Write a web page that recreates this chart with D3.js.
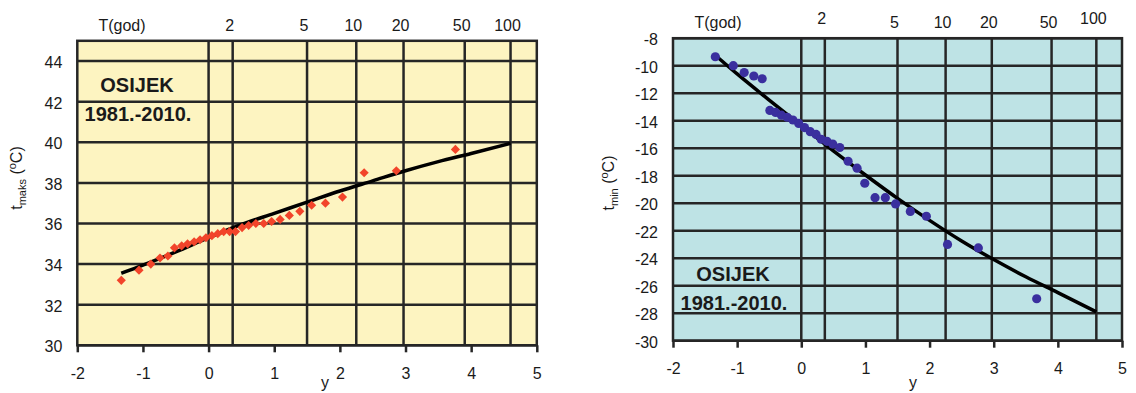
<!DOCTYPE html>
<html>
<head>
<meta charset="utf-8">
<script src="https://cdn.jsdelivr.net/npm/d3@7"></script>
<style>
  html, body { margin: 0; padding: 0; background: #ffffff; }
  svg { display: block; }
  text { font-family: "Liberation Sans", Arial, Helvetica, sans-serif; fill: #1a1a1a; }
</style>
</head>
<body>
<svg id="chart" width="1136" height="393"></svg>
<script>
// ---------------- DATA ----------------
// Gumbel reduced variate positions of the return-period grid lines
const returnPeriodLabels = ["2", "5", "10", "20", "50", "100"];
const returnPeriodY = [0.367, 1.500, 2.250, 2.970, 3.902, 4.600];
const xTicks = [-2, -1, 0, 1, 2, 3, 4, 5];

// Left panel: annual maximum temperature, Osijek 1981-2010
const maxYTicks = [30, 32, 34, 36, 38, 40, 42, 44];
const maxPointsX = [-1.33, -1.06, -0.88, -0.74, -0.62, -0.52, -0.41, -0.32, -0.22, -0.13,
                    -0.04, 0.05, 0.14, 0.23, 0.32, 0.41, 0.51, 0.61, 0.72, 0.84,
                    0.96, 1.09, 1.23, 1.39, 1.57, 1.78, 2.04, 2.37, 2.86, 3.76];
const maxPointsT = [33.2, 33.7, 34.0, 34.3, 34.4, 34.8, 34.9, 35.0, 35.1, 35.2,
                    35.3, 35.4, 35.5, 35.6, 35.6, 35.6, 35.8, 35.9, 36.0, 36.0,
                    36.1, 36.2, 36.4, 36.6, 36.9, 37.0, 37.3, 38.5, 38.6, 39.65];
const maxFitX = [-1.33, -1, -0.5, 0, 0.5, 1, 1.5, 2, 2.5, 3, 3.5, 4, 4.6];
const maxFitT = [33.55, 33.95, 34.6, 35.3, 35.95, 36.5, 37.05, 37.6, 38.1, 38.6, 39.05, 39.45, 39.95];

// Right panel: annual minimum temperature, Osijek 1981-2010
const minYTicks = [-30, -28, -26, -24, -22, -20, -18, -16, -14, -12, -10, -8];
const minPointsX = [-1.34, -1.06, -0.89, -0.74, -0.61, -0.49, -0.40, -0.31, -0.22, -0.13,
                    -0.04, 0.05, 0.14, 0.23, 0.31, 0.40, 0.49, 0.60, 0.73, 0.87,
                    0.99, 1.15, 1.31, 1.47, 1.70, 1.95, 2.28, 2.76, 3.67];
const minPointsT = [-9.35, -10.0, -10.5, -10.75, -10.95, -13.25, -13.4, -13.6, -13.75, -13.95,
                    -14.2, -14.5, -14.8, -15.0, -15.35, -15.5, -15.7, -15.95, -16.95, -17.45,
                    -18.55, -19.6, -19.6, -20.05, -20.6, -20.95, -23.0, -23.25, -26.95];
const minFitX = [-1.3, -1, -0.5, 0, 0.5, 1, 1.5, 2, 2.5, 3, 3.5, 4, 4.6];
const minFitT = [-9.4, -10.6, -12.5, -14.35, -16.2, -17.95, -19.65, -21.25, -22.75, -24.1, -25.35, -26.5, -27.9];

const stationName = "OSIJEK";
const periodLabel = "1981.-2010.";

// ---------------- DRAW ----------------
const svg = d3.select("#chart");
svg.append("rect").attr("width", 1136).attr("height", 393).attr("fill", "#ffffff");

function drawPanel(cfg) {
  const g = svg.append("g");
  const x = d3.scaleLinear().domain([-2, 5]).range([cfg.left, cfg.right]);
  const y = d3.scaleLinear().domain(cfg.yDomain).range([cfg.bottom, cfg.top]);

  // background
  g.append("rect")
    .attr("x", cfg.left).attr("y", cfg.top)
    .attr("width", cfg.right - cfg.left).attr("height", cfg.bottom - cfg.top)
    .attr("fill", cfg.bg);

  const gridColor = "#262626";
  const gw = 2.5;
  // horizontal grid
  g.append("g").selectAll("line").data(cfg.yTicks).join("line")
    .attr("x1", cfg.left).attr("x2", cfg.right)
    .attr("y1", d => y(d)).attr("y2", d => y(d))
    .attr("stroke", gridColor).attr("stroke-width", gw);
  // vertical grid: y=0 and return periods
  g.append("g").selectAll("line").data([0].concat(returnPeriodY)).join("line")
    .attr("x1", d => x(d)).attr("x2", d => x(d))
    .attr("y1", cfg.top).attr("y2", cfg.bottom)
    .attr("stroke", gridColor).attr("stroke-width", gw);
  // border
  g.append("rect")
    .attr("x", cfg.left).attr("y", cfg.top)
    .attr("width", cfg.right - cfg.left).attr("height", cfg.bottom - cfg.top)
    .attr("fill", "none").attr("stroke", gridColor).attr("stroke-width", gw);

  // y axis labels
  const ya = g.append("g").attr("transform", `translate(${cfg.left},0)`)
    .call(d3.axisLeft(y).tickValues(cfg.yTicks).tickSize(0).tickPadding(cfg.yPad)
      .tickFormat(d => String(d)));
  ya.select(".domain").remove();
  ya.selectAll("text").attr("font-size", 16).attr("fill", "#1a1a1a")
    .attr("font-family", "\"Liberation Sans\", Arial, sans-serif").attr("dy", "0.4em");

  // x axis
  const xa = g.append("g").attr("transform", `translate(0,${cfg.bottom})`)
    .call(d3.axisBottom(x).tickValues(xTicks).tickSize(7).tickPadding(15)
      .tickFormat(d => String(d)));
  xa.select(".domain").remove();
  xa.selectAll("line").attr("stroke", gridColor).attr("stroke-width", gw);
  xa.selectAll("text").attr("font-size", 16).attr("fill", "#1a1a1a")
    .attr("font-family", "\"Liberation Sans\", Arial, sans-serif");

  // x axis title "y"
  g.append("text").attr("x", cfg.yLabelX).attr("y", 388)
    .attr("text-anchor", "middle").attr("font-size", 16).text("y");

  // top return-period labels
  g.append("text").attr("x", cfg.tgodX).attr("y", cfg.topLabelY)
    .attr("text-anchor", "middle").attr("font-size", 16).text("T(god)");
  g.append("g").selectAll("text").data(returnPeriodY).join("text")
    .attr("x", (d, i) => x(d) - 3)
    .attr("y", (d, i) => cfg.topLabelY + cfg.topLabelDy[i])
    .attr("text-anchor", "middle").attr("font-size", 16)
    .text((d, i) => returnPeriodLabels[i]);

  // y axis title
  const tt = g.append("text")
    .attr("transform", `translate(${cfg.titleX},${cfg.titleY}) rotate(-90)`)
    .attr("text-anchor", "middle").attr("font-size", 16);
  tt.append("tspan").text("t");
  tt.append("tspan").attr("font-size", 11).attr("dy", 4).text(cfg.sub);
  tt.append("tspan").attr("dy", -4).text(" (");
  tt.append("tspan").attr("font-size", 11).attr("dy", -6).text("o");
  tt.append("tspan").attr("dy", 6).text("C)");

  // station text
  g.append("text").attr("x", cfg.nameX).attr("y", cfg.nameY)
    .attr("text-anchor", "middle").attr("font-size", 20).attr("font-weight", "bold")
    .text(stationName);
  g.append("text").attr("x", cfg.nameX + 1).attr("y", cfg.nameY + 29)
    .attr("text-anchor", "middle").attr("font-size", 20).attr("font-weight", "bold")
    .text(periodLabel);

  // fitted curve
  const line = d3.line().curve(d3.curveMonotoneX).x(d => x(d[0])).y(d => y(d[1]));
  const fit = cfg.fitX.map((v, i) => [v, cfg.fitT[i]]);
  g.append("path").datum(fit).attr("d", line)
    .attr("fill", "none").attr("stroke", "#000").attr("stroke-width", 3.5);

  // points
  const pts = cfg.px.map((v, i) => [v, cfg.pt[i]]);
  if (cfg.marker === "diamond") {
    g.append("g").selectAll("path").data(pts).join("path")
      .attr("transform", d => `translate(${x(d[0])},${y(d[1])}) rotate(45)`)
      .attr("d", d3.symbol().type(d3.symbolSquare).size(42))
      .attr("fill", cfg.color);
  } else {
    g.append("g").selectAll("circle").data(pts).join("circle")
      .attr("cx", d => x(d[0])).attr("cy", d => y(d[1])).attr("r", 4.6)
      .attr("fill", cfg.color);
  }
}

drawPanel({
  left: 77.3, right: 536.8, top: 40.8, bottom: 345.3,
  yDomain: [30, 45], yTicks: maxYTicks, yPad: 15,
  bg: "#fdf4c1", color: "#f2442a", marker: "diamond",
  px: maxPointsX, pt: maxPointsT, fitX: maxFitX, fitT: maxFitT,
  sub: "maks", titleX: 22, titleY: 178,
  nameX: 137, nameY: 92,
  yLabelX: 325, tgodX: 122, topLabelY: 31,
  topLabelDy: [0, 0, 0, 0, 0, 0]
});

drawPanel({
  left: 673, right: 1122, top: 38.2, bottom: 340.7,
  yDomain: [-30, -8], yTicks: minYTicks, yPad: 15,
  bg: "#bee3e5", color: "#3a2f9e", marker: "circle",
  px: minPointsX, pt: minPointsT, fitX: minFitX, fitT: minFitT,
  sub: "min", titleX: 614, titleY: 183,
  nameX: 733, nameY: 281,
  yLabelX: 913, tgodX: 718, topLabelY: 28,
  topLabelDy: [-4, 0, 0, 0, 0, -4]
});
</script>
</body>
</html>
